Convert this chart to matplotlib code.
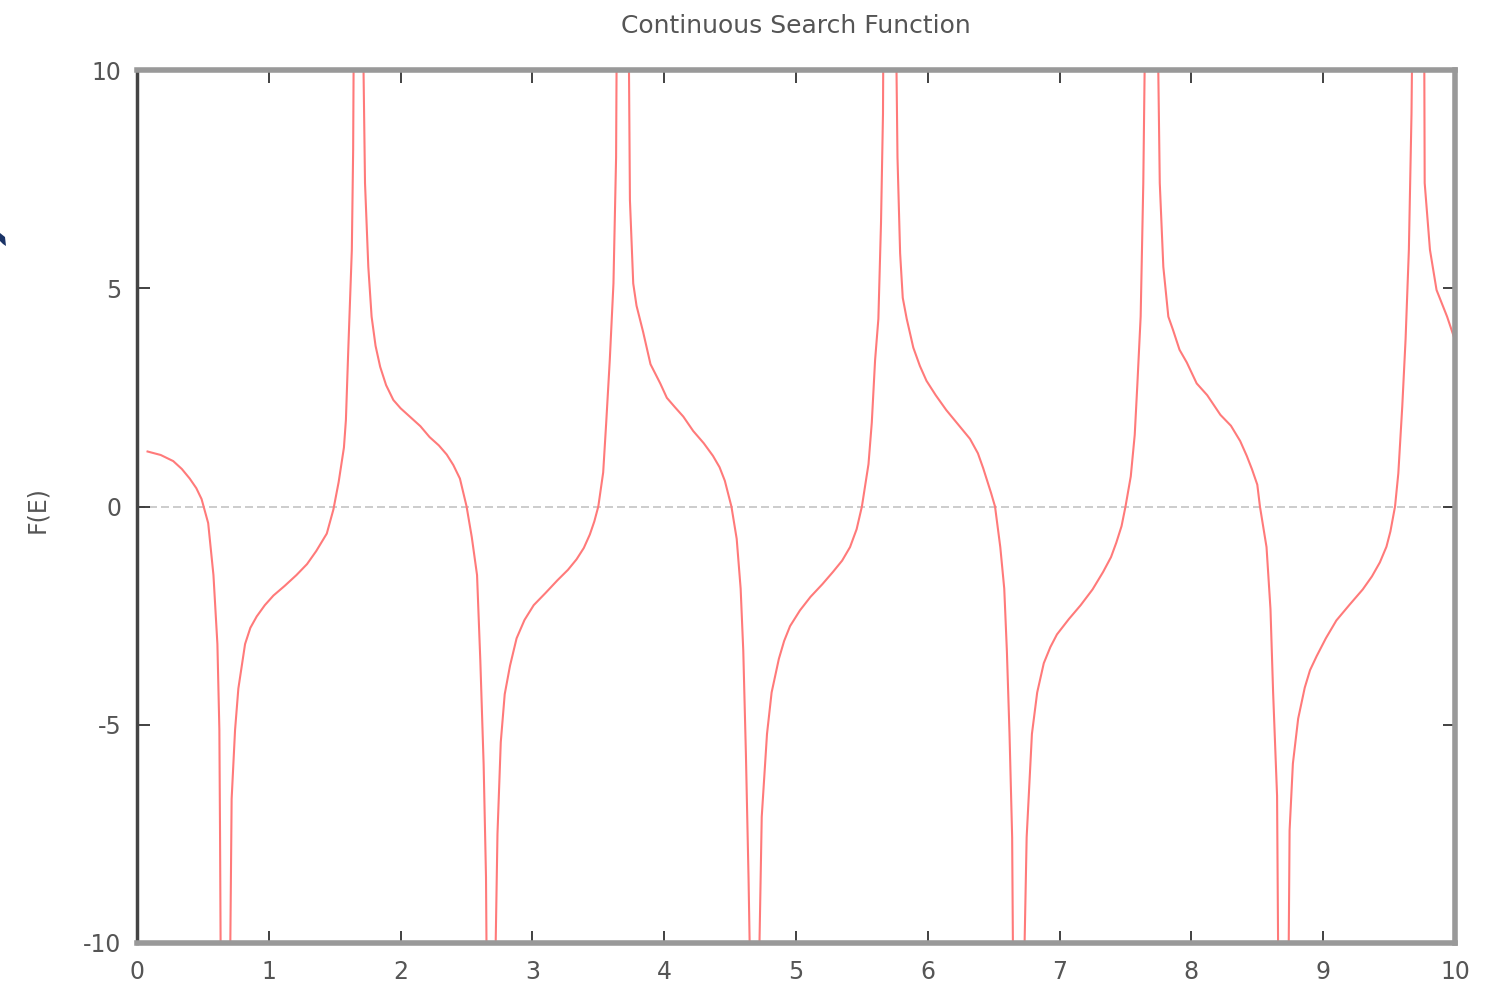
import matplotlib
matplotlib.use("Agg")
import matplotlib.pyplot as plt
from matplotlib.patches import Polygon

# ---- data ----
title = "Continuous Search Function"
ylabel = "F(E)"
x_ticks = [0, 1, 2, 3, 4, 5, 6, 7, 8, 9, 10]
y_ticks = [-10, -5, 0, 5, 10]

energy = [
    0.08, 0.18, 0.275, 0.34, 0.40, 0.45, 0.49, 0.54, 0.58, 0.61, 0.625, 0.63,
    0.636, 0.67, 0.705, 0.718, 0.744, 0.769, 0.82, 0.86, 0.908, 0.97, 1.035,
    1.12, 1.21, 1.29, 1.36, 1.44, 1.49, 1.53, 1.57, 1.585, 1.603, 1.63, 1.64,
    1.647, 1.678, 1.71, 1.73, 1.755, 1.78, 1.81, 1.845, 1.89, 1.945, 2.0,
    2.07, 2.15, 2.22, 2.29, 2.35, 2.40, 2.45, 2.50, 2.54, 2.58, 2.605, 2.63,
    2.648, 2.654, 2.685, 2.716, 2.735, 2.76, 2.79, 2.83, 2.88, 2.94, 3.01,
    3.10, 3.19, 3.27, 3.335, 3.39, 3.436, 3.47, 3.50, 3.537, 3.56, 3.587,
    3.615, 3.635, 3.642, 3.685, 3.728, 3.74, 3.765, 3.79, 3.84, 3.896, 3.97,
    4.02, 4.08, 4.145, 4.22, 4.30, 4.37, 4.42, 4.46, 4.51, 4.55, 4.58, 4.60,
    4.62, 4.64, 4.654, 4.685, 4.717, 4.74, 4.78, 4.815, 4.87, 4.91, 4.955,
    5.03, 5.11, 5.20, 5.28, 5.35, 5.41, 5.46, 5.50, 5.55, 5.575, 5.60, 5.625,
    5.645, 5.66, 5.665, 5.71, 5.755, 5.77, 5.79, 5.81, 5.84, 5.89, 5.94,
    5.99, 6.06, 6.14, 6.23, 6.32, 6.38, 6.42, 6.48, 6.51, 6.55, 6.58, 6.60,
    6.62, 6.64, 6.648, 6.69, 6.728, 6.75, 6.79, 6.83, 6.88, 6.93, 6.98, 7.07,
    7.16, 7.25, 7.33, 7.39, 7.43, 7.47, 7.50, 7.54, 7.57, 7.59, 7.615, 7.635,
    7.653, 7.70, 7.74, 7.76, 7.787, 7.825, 7.86, 7.91, 7.965, 8.04, 8.12,
    8.22, 8.30, 8.37, 8.42, 8.46, 8.50, 8.52, 8.57, 8.60, 8.62, 8.65, 8.66,
    8.70, 8.736, 8.745, 8.77, 8.81, 8.86, 8.90, 8.95, 9.02, 9.10, 9.20, 9.30,
    9.37, 9.43, 9.48, 9.51, 9.545, 9.57, 9.60, 9.625, 9.65, 9.67, 9.68, 9.72,
    9.765, 9.77, 9.81, 9.86, 9.94, 10.0,
]
f_of_e = [
    1.26, 1.18, 1.04, 0.86, 0.64, 0.42, 0.17, -0.38, -1.57, -3.15, -5.12, -7.48,
    -11, -30, -11, -6.70, -5.12, -4.17, -3.15, -2.78, -2.52, -2.26, -2.04,
    -1.82, -1.57, -1.32, -1.02, -0.62, -0.07, 0.56, 1.35, 1.98, 3.59, 5.88, 8.17,
    12, 40, 12, 7.41, 5.49, 4.35, 3.68, 3.20, 2.78, 2.44, 2.25,
    2.06, 1.84, 1.59, 1.40, 1.19, 0.95, 0.64, 0.01, -0.70, -1.57, -3.54, -5.91,
    -8.5, -11, -30, -11, -7.5, -5.4, -4.3, -3.65, -3.02, -2.6, -2.26,
    -1.98, -1.69, -1.45, -1.21, -0.95, -0.64, -0.34, 0.0, 0.78, 1.92, 3.35,
    5.11, 8.0, 12, 40, 12, 7.02, 5.11, 4.6, 4.0, 3.26, 2.82,
    2.49, 2.28, 2.06, 1.73, 1.45, 1.16, 0.90, 0.59, 0.0, -0.74, -1.88, -3.31,
    -5.68, -8.53, -11, -30, -11, -7.11, -5.21, -4.26, -3.49, -3.08, -2.74,
    -2.38, -2.07, -1.78, -1.50, -1.24, -0.93, -0.52, 0.0, 0.97, 1.92, 3.35, 4.30,
    6.5, 9.0, 12, 40, 12, 8.0, 5.8, 4.78, 4.30, 3.64, 3.22,
    2.88, 2.55, 2.21, 1.88, 1.55, 1.22, 0.88, 0.31, 0.0, -0.93, -1.88, -3.31,
    -5.21, -7.58, -11, -30, -11, -7.58, -5.21, -4.26, -3.59, -3.22, -2.93, -2.58,
    -2.26, -1.90, -1.50, -1.16, -0.83, -0.45, 0.0, 0.69, 1.64, 2.8, 4.35, 7.41,
    12, 40, 12, 7.41, 5.49, 4.35, 4.05, 3.59, 3.3, 2.82, 2.55,
    2.1, 1.85, 1.50, 1.16, 0.85, 0.50, 0.0, -0.93, -2.35, -4.26, -6.63, -11,
    -30, -11, -7.42, -5.89, -4.86, -4.15, -3.75, -3.43, -3.02, -2.61, -2.25, -1.90,
    -1.60, -1.28, -0.92, -0.57, 0.0, 0.76, 2.30, 3.83, 5.88, 9.0, 12, 40,
    12, 7.41, 5.88, 4.96, 4.35, 3.81,
]

W, H = 1498, 983
fig = plt.figure(figsize=(W / 100, H / 100), dpi=100)
L, R, T, B = 137, 1455, 70, 943
ax = fig.add_axes([L / W, 1 - B / H, (R - L) / W, (B - T) / H])

ax.axhline(0, color="#c4c4c4", lw=1.2, dashes=(4.8, 2.4), zorder=1)
ax.plot(energy, f_of_e, color="#ff7a7a", lw=1.5, zorder=2,
        solid_joinstyle="round")

ax.set_xlim(0, 10)
ax.set_ylim(-10, 10)
ax.set_xticks(x_ticks)
ax.set_yticks(y_ticks)
ax.set_xticklabels([str(v) for v in x_ticks])
ax.set_yticklabels([str(v) for v in y_ticks])

ax.tick_params(axis="both", direction="in", length=9, width=1.3,
               colors="#333333", labelcolor="#555555", labelsize=17,
               top=True, right=True)
ax.tick_params(axis="x", pad=12)
ax.tick_params(axis="y", pad=11)

for side in ["top", "bottom", "right"]:
    ax.spines[side].set_color("#999999")
    ax.spines[side].set_linewidth(4)
ax.spines["left"].set_color("#444444")
ax.spines["left"].set_linewidth(2.5)

fig.text((L + R) / 2 / W, 1 - 26 / H, title, ha="center", va="center",
         fontsize=18, color="#555555")
fig.text(37 / W, 1 - 510 / H, ylabel, ha="center", va="center",
         rotation=90, fontsize=17, color="#555555")

# small dark fragment at the left edge of the picture
frag = [(0, 233), (5, 237), (6, 246), (3, 244), (0, 241)]
fig.patches.append(Polygon([(px / W, 1 - py / H) for px, py in frag],
                           closed=True, transform=fig.transFigure,
                           facecolor="#1a3366", edgecolor="none"))

fig.savefig("out.png", dpi=100, facecolor="white")
